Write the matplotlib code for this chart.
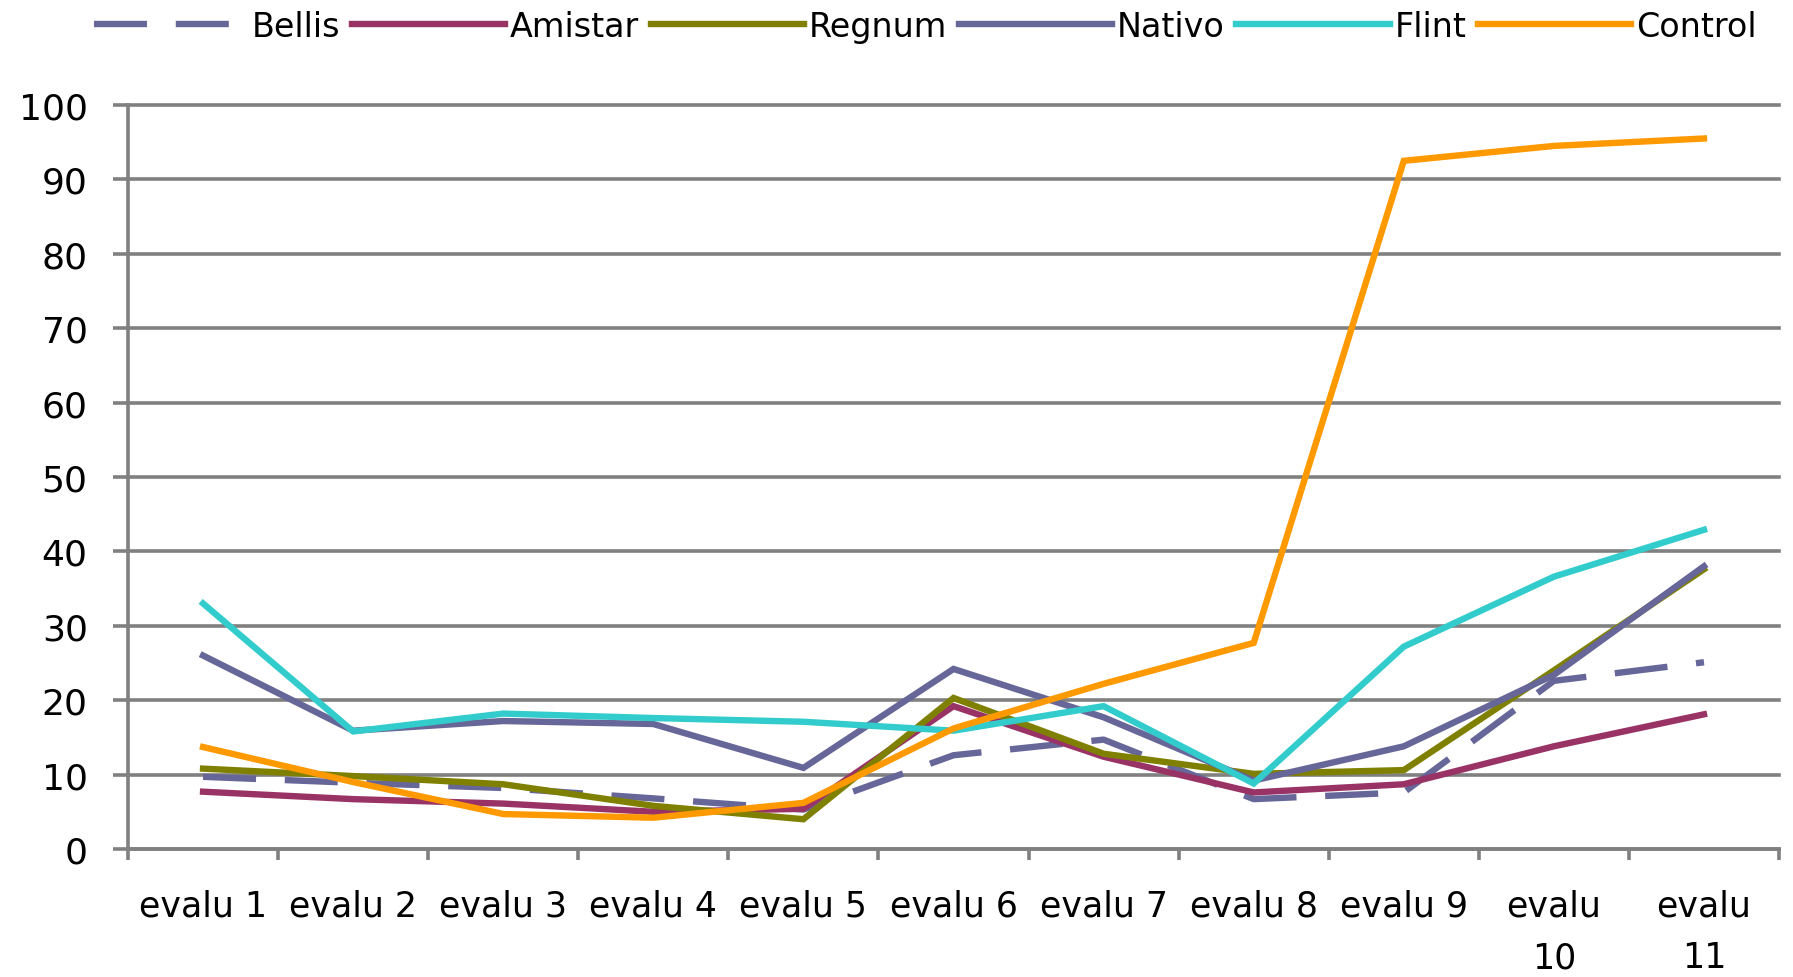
import matplotlib
matplotlib.use("Agg")
import matplotlib.pyplot as plt
import numpy as np

categories = ["evalu 1", "evalu 2", "evalu 3", "evalu 4", "evalu 5", "evalu 6",
              "evalu 7", "evalu 8", "evalu 9", "evalu\n10", "evalu\n11"]

bellis  = [9.7, 8.9, 8.2, 6.8, 5.3, 12.6, 14.7, 6.7, 7.6, 22.6, 25.1]
amistar = [7.7, 6.7, 6.1, 5.0, 5.4, 19.2, 12.4, 7.6, 8.7, 13.8, 18.1]
regnum  = [10.8, 9.8, 8.7, 5.8, 4.0, 20.3, 12.8, 10.1, 10.6, 24.0, 37.6]
nativo  = [26.0, 15.9, 17.2, 16.8, 10.9, 24.2, 17.7, 9.2, 13.8, 23.4, 38.0]
flint   = [33.0, 15.8, 18.2, 17.6, 17.1, 15.9, 19.2, 8.8, 27.2, 36.6, 42.9]
control = [13.7, 9.0, 4.7, 4.2, 6.2, 16.2, 22.2, 27.7, 92.5, 94.5, 95.5]

series = [("Bellis", bellis, "#666699", "dash"),
          ("Amistar", amistar, "#993366", "solid"),
          ("Regnum", regnum, "#808000", "solid"),
          ("Nativo", nativo, "#666699", "solid"),
          ("Flint", flint, "#33CCCC", "solid"),
          ("Control", control, "#FF9900", "solid")]

plt.rcParams['font.family'] = ['DejaVu Sans']
grid_col = "#808080"

fig = plt.figure(figsize=(17.93, 9.78), dpi=100)
ax = fig.add_axes([0.0714, 0.1309, 0.9208, 0.7607])

x = np.arange(len(categories))
for name, vals, col, style in series:
    line, = ax.plot(x, vals, color=col, lw=4.6, label=name, solid_joinstyle='miter')
    if style == "dash":
        line.set_dashes((8.3, 4.5))

ax.set_xlim(-0.5, len(categories) - 0.5)
ax.set_ylim(0, 100)
ax.set_yticks(np.arange(0, 101, 10))
ax.tick_params(axis='y', direction='out', length=11, width=2.6, color=grid_col,
               labelsize=26, pad=18)

# boundaries get tick marks, centers get the labels
ax.set_xticks(np.arange(-0.5, len(categories), 1.0))
ax.set_xticklabels([])
ax.set_xticks(x, minor=True)
ax.set_xticklabels(categories, minor=True, fontsize=25, linespacing=1.65)
ax.tick_params(axis='x', which='major', direction='out', length=8, width=2.6, color=grid_col)
ax.tick_params(axis='x', which='minor', length=0, pad=28.5)

ax.grid(axis='y', color=grid_col, lw=2.6)
ax.set_axisbelow(True)
for gl in ax.get_ygridlines():
    gl.set_clip_on(False)

for s in ['top', 'right']:
    ax.spines[s].set_visible(False)
for s in ['left', 'bottom']:
    ax.spines[s].set_color(grid_col)
    ax.spines[s].set_linewidth(2.6)

fig.legend(loc='center', bbox_to_anchor=(0.516, 0.972), ncol=6, frameon=False,
           fontsize=24, handlelength=4.6, handletextpad=0.15, columnspacing=0.34,
           borderpad=0, borderaxespad=0)

fig.savefig("out.png", dpi=100)
